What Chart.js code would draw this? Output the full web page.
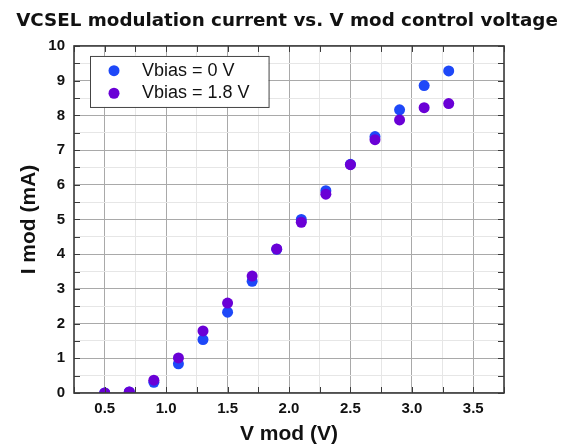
<!DOCTYPE html>
<html>
<head>
<meta charset="utf-8">
<script src="https://cdn.jsdelivr.net/npm/chart.js@4.4.0/dist/chart.umd.min.js"></script>
<style>
html,body{margin:0;padding:0;background:#fff;}
#wrap{width:574px;height:446px;}
</style>
</head>
<body>
<div id="wrap"><canvas id="c" width="574" height="446"></canvas></div>
<script>
// ---- data ----
const vmod = [0.5, 0.7, 0.9, 1.1, 1.3, 1.5, 1.7, 1.9, 2.1, 2.3, 2.5, 2.7, 2.9, 3.1, 3.3];
const imodBias0 = [0.00, 0.03, 0.31, 0.84, 1.54, 2.33, 3.22, 4.14, 5.00, 5.83, 6.59, 7.39, 8.16, 8.86, 9.28];
const imodBias18 = [0.00, 0.03, 0.37, 1.01, 1.79, 2.59, 3.37, 4.15, 4.92, 5.73, 6.58, 7.30, 7.87, 8.22, 8.34];
const seriesLabels = ['Vbias = 0 V', 'Vbias = 1.8 V'];
const seriesColors = ['#1e48f8', '#6a00d6'];
const xTickValues = [0.5, 1.0, 1.5, 2.0, 2.5, 3.0, 3.5];
const xTickLabels = ['0.5', '1.0', '1.5', '2.0', '2.5', '3.0', '3.5'];
const yTickValues = [0, 1, 2, 3, 4, 5, 6, 7, 8, 9, 10];
const yTickLabels = ['0', '1', '2', '3', '4', '5', '6', '7', '8', '9', '10'];
const chartTitle = 'VCSEL modulation current vs. V mod control voltage';
const xTitle = 'V mod (V)';
const yTitle = 'I mod (mA)';

const ARIAL = '"Liberation Sans", Arial, sans-serif';

function labelFor(values, labels, v) {
  for (let i = 0; i < values.length; i++) {
    if (Math.abs(values[i] - v) < 1e-6) return labels[i];
  }
  return '';
}
function isMultiple(v, step) {
  const r = v / step;
  return Math.abs(r - Math.round(r)) < 1e-6;
}

const framePlugin = {
  id: 'frame',
  afterDatasetsDraw(chart) {
    const {ctx, chartArea: a, scales: {x, y}} = chart;
    const L = 6;
    ctx.save();
    ctx.strokeStyle = '#3a3a3a';
    ctx.lineWidth = 1;
    ctx.beginPath();
    x.ticks.forEach(t => {
      const px = Math.round(x.getPixelForValue(t.value)) + 0.5;
      ctx.moveTo(px, a.bottom); ctx.lineTo(px, a.bottom - L);
      ctx.moveTo(px, a.top); ctx.lineTo(px, a.top + L);
    });
    y.ticks.forEach(t => {
      const py = Math.round(y.getPixelForValue(t.value)) + 0.5;
      ctx.moveTo(a.left, py); ctx.lineTo(a.left + L, py);
      ctx.moveTo(a.right, py); ctx.lineTo(a.right - L, py);
    });
    ctx.stroke();
    ctx.lineWidth = 1.6;
    ctx.strokeRect(a.left, a.top, a.right - a.left, a.bottom - a.top);
    ctx.restore();
  }
};

const boxLegendPlugin = {
  id: 'boxLegend',
  afterDraw(chart) {
    const {ctx, chartArea: a} = chart;
    const ds = chart.data.datasets;
    ctx.save();
    ctx.font = '18px ' + ARIAL;
    const left = a.left + 16, top = a.top + 10;
    const markerX = left + 24, textX = left + 52, rowH = 22.6, firstY = top + 14.7;
    let maxW = 0;
    ds.forEach(d => { maxW = Math.max(maxW, ctx.measureText(d.label).width); });
    const w = textX - left + maxW + 19, h = 51;
    ctx.fillStyle = '#fff';
    ctx.fillRect(left, top, w, h);
    ctx.strokeStyle = '#444';
    ctx.lineWidth = 1;
    ctx.strokeRect(left + 0.5, top + 0.5, w, h);
    ds.forEach((d, i) => {
      const cy = firstY + i * rowH;
      ctx.fillStyle = d.backgroundColor;
      ctx.beginPath();
      ctx.arc(markerX, cy, 5.5, 0, Math.PI * 2);
      ctx.fill();
      ctx.fillStyle = '#111';
      ctx.textBaseline = 'middle';
      ctx.textAlign = 'left';
      ctx.fillText(d.label, textX, cy);
    });
    ctx.restore();
  }
};

Chart.defaults.color = '#111';

new Chart(document.getElementById('c'), {
  type: 'scatter',
  data: {
    datasets: [
      {
        label: seriesLabels[0],
        data: vmod.map((v, i) => ({x: v, y: imodBias0[i]})),
        backgroundColor: seriesColors[0],
        borderColor: seriesColors[0],
        pointRadius: 5.5, pointHoverRadius: 5.5, borderWidth: 0,
        order: 1, clip: 0
      },
      {
        label: seriesLabels[1],
        data: vmod.map((v, i) => ({x: v, y: imodBias18[i]})),
        backgroundColor: seriesColors[1],
        borderColor: seriesColors[1],
        pointRadius: 5.5, pointHoverRadius: 5.5, borderWidth: 0,
        order: 0, clip: 0
      }
    ]
  },
  options: {
    responsive: false,
    animation: false,
    devicePixelRatio: 1,
    layout: {padding: 0},
    plugins: {
      legend: {display: false},
      tooltip: {enabled: false},
      title: {
        display: true,
        text: chartTitle,
        color: '#111',
        font: {family: '"DejaVu Sans", sans-serif', size: 18.3, weight: 'bold', lineHeight: 1.2},
        padding: {top: 10, bottom: 14}
      }
    },
    scales: {
      x: {
        type: 'linear',
        min: 0.25, max: 3.75,
        afterFit: s => { s.height = 53; },
        border: {display: false},
        grid: {
          drawTicks: false,
          lineWidth: 1,
          color: c => isMultiple(c.tick.value, 0.5) ? '#a9a9a9' : '#e6e6e6'
        },
        ticks: {
          stepSize: 0.25,
          autoSkip: false,
          maxRotation: 0,
          padding: 6.5,
          color: '#111',
          font: {family: ARIAL, size: 15, weight: 'bold'},
          callback: v => labelFor(xTickValues, xTickLabels, v)
        },
        title: {
          display: true,
          text: xTitle,
          color: '#111',
          font: {family: ARIAL, size: 21, weight: 'bold', lineHeight: 1},
          padding: {top: 0, bottom: 1.3}
        }
      },
      y: {
        type: 'linear',
        min: 0, max: 10,
        afterFit: s => { s.width = 74; },
        border: {display: false},
        grid: {
          drawTicks: false,
          lineWidth: 1,
          color: c => isMultiple(c.tick.value, 1) ? '#a9a9a9' : '#e6e6e6'
        },
        ticks: {
          stepSize: 0.5,
          autoSkip: false,
          padding: 9,
          color: '#111',
          font: {family: ARIAL, size: 15, weight: 'bold'},
          callback: v => labelFor(yTickValues, yTickLabels, v)
        },
        title: {
          display: true,
          text: yTitle,
          color: '#111',
          font: {family: ARIAL, size: 21, weight: 'bold', lineHeight: 1},
          padding: {top: 18.7, bottom: 0}
        }
      },
      rightSpace: {
        type: 'linear',
        position: 'right',
        display: true,
        min: 0, max: 10,
        afterFit: s => { s.width = 70; },
        border: {display: false},
        grid: {display: false, drawOnChartArea: false, drawTicks: false},
        ticks: {display: false},
        title: {display: false}
      }
    }
  },
  plugins: [framePlugin, boxLegendPlugin]
});
</script>
</body>
</html>
